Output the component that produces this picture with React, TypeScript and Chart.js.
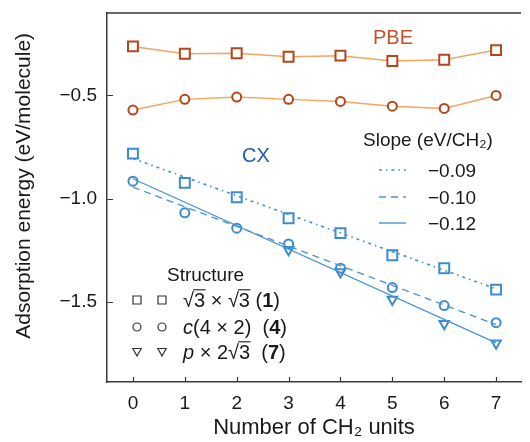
import React, { useEffect, useRef } from 'react';
import { Chart, registerables } from 'chart.js';

Chart.register(...registerables);

// ---------- data ----------
const xUnits = [0, 1, 2, 3, 4, 5, 6, 7];
const pbeSquare = [-0.262, -0.298, -0.295, -0.312, -0.307, -0.333, -0.327, -0.28];
const pbeCircle = [-0.571, -0.519, -0.508, -0.519, -0.529, -0.552, -0.563, -0.5];
const cxSquare = [-0.782, -0.924, -0.994, -1.096, -1.168, -1.275, -1.338, -1.442];
const cxCircle = [-0.916, -1.069, -1.144, -1.22, -1.338, -1.432, -1.519, -1.602];
const cxTriangle = [null, null, null, -1.248, -1.357, -1.49, -1.608, -1.702];
const fitX = [0, 7];
const fitSquare = [-0.806, -1.438];
const fitCircle = [-0.945, -1.612];
const fitTriangle = [-0.904, -1.7];
const xTickValues = [0, 1, 2, 3, 4, 5, 6, 7];
const yTickValues = [-1.5, -1.0, -0.5];
const slopeLabels = ['\u22120.09', '\u22120.10', '\u22120.12'];

// ---------- styles ----------
const FAM = '"Liberation Sans", Arial, Helvetica, sans-serif';
const FRAME = '#3a3a3a';
const TEXT = '#1a1a1a';
const PBE_MARK = '#b5461c';
const PBE_LINE = '#f5a462';
const PBE_LABEL = '#c0532b';
const CX_MARK = '#3c8dd0';
const CX_LINE = '#4a93d3';
const CX_LABEL = '#1f5ea8';
const DASHDOT = [3, 4, 1.5, 4];
const DASHED = [7, 5];

const pts = (xs: number[], ys: (number | null)[]) =>
  xs.map((x, i) => ({ x, y: ys[i] })).filter((p) => p.y !== null);

function drawSqrt(ctx: CanvasRenderingContext2D, x: number, y: number, d: string, size: number) {
  ctx.fillText('\u221A', x, y);
  const w = ctx.measureText('\u221A').width;
  ctx.fillText(d, x + w, y);
  const wd = ctx.measureText(d).width;
  ctx.save();
  ctx.strokeStyle = TEXT;
  ctx.lineWidth = 1.1;
  ctx.beginPath();
  ctx.moveTo(x + w * 0.92, y - size * 0.86);
  ctx.lineTo(x + w + wd + 0.5, y - size * 0.86);
  ctx.stroke();
  ctx.restore();
  return x + w + wd;
}

type Part = { t: string; s?: 'i' | 'b' | 'sqrt' };

function drawRich(ctx: CanvasRenderingContext2D, x: number, y: number, parts: Part[], size: number) {
  for (const p of parts) {
    if (p.s === 'i') ctx.font = `italic ${size}px ${FAM}`;
    else if (p.s === 'b') ctx.font = `bold ${size}px ${FAM}`;
    else ctx.font = `${size}px ${FAM}`;
    if (p.s === 'sqrt') {
      x = drawSqrt(ctx, x, y, p.t, size);
    } else {
      ctx.fillText(p.t, x, y);
      x += ctx.measureText(p.t).width;
    }
  }
}

const structureRows: Part[][] = [
  [{ t: '3', s: 'sqrt' }, { t: ' \u00D7 ' }, { t: '3', s: 'sqrt' }, { t: ' (' }, { t: '1', s: 'b' }, { t: ')' }],
  [{ t: 'c', s: 'i' }, { t: '(4 \u00D7 2)  (' }, { t: '4', s: 'b' }, { t: ')' }],
  [{ t: 'p', s: 'i' }, { t: ' \u00D7 2' }, { t: '3', s: 'sqrt' }, { t: '  (' }, { t: '7', s: 'b' }, { t: ')' }],
];
const structureMarkers = ['square', 'circle', 'triangle'];

function legendMarker(ctx: CanvasRenderingContext2D, kind: string, x: number, y: number) {
  ctx.beginPath();
  if (kind === 'square') ctx.rect(x - 4, y - 4, 8, 8);
  else if (kind === 'circle') ctx.arc(x, y, 4, 0, Math.PI * 2);
  else {
    ctx.moveTo(x - 4.2, y - 3.5);
    ctx.lineTo(x + 4.2, y - 3.5);
    ctx.lineTo(x, y + 4);
    ctx.closePath();
  }
  ctx.stroke();
}

const annotations = {
  id: 'annotations',
  afterDraw(chart: any) {
    const ctx: CanvasRenderingContext2D = chart.ctx;
    const { left, right, top, bottom } = chart.chartArea;
    ctx.save();
    // top frame line
    ctx.strokeStyle = FRAME;
    ctx.lineWidth = 1.5;
    ctx.beginPath();
    ctx.moveTo(left - 0.75, top);
    ctx.lineTo(right, top);
    ctx.stroke();

    // inward tick marks from the library's scales
    ctx.lineWidth = 1.2;
    const xs = chart.scales.x;
    const ys = chart.scales.y;
    ctx.beginPath();
    for (const t of xs.ticks) {
      const px = Math.round(xs.getPixelForValue(t.value)) + 0.5;
      ctx.moveTo(px, bottom);
      ctx.lineTo(px, bottom - 5);
    }
    for (const t of ys.ticks) {
      const py = Math.round(ys.getPixelForValue(t.value)) + 0.5;
      ctx.moveTo(left, py);
      ctx.lineTo(left + 6, py);
    }
    ctx.stroke();

    ctx.textBaseline = 'alphabetic';
    ctx.textAlign = 'left';
    // group labels
    ctx.font = `20px ${FAM}`;
    ctx.fillStyle = PBE_LABEL;
    ctx.fillText('PBE', 373, 44);
    ctx.fillStyle = CX_LABEL;
    ctx.fillText('CX', 242, 162);

    // slope legend
    ctx.fillStyle = TEXT;
    ctx.font = `19px ${FAM}`;
    ctx.fillText('Slope (eV/CH\u2082)', 363, 146);
    const dashes = [DASHDOT, DASHED, []];
    const rowY = [170, 197, 223];
    const baseY = [177, 204, 230];
    for (let i = 0; i < 3; i++) {
      ctx.strokeStyle = CX_LINE;
      ctx.lineWidth = 1.4;
      ctx.setLineDash(dashes[i]);
      ctx.beginPath();
      ctx.moveTo(379, rowY[i]);
      ctx.lineTo(406, rowY[i]);
      ctx.stroke();
      ctx.setLineDash([]);
      ctx.fillStyle = TEXT;
      ctx.font = `19px ${FAM}`;
      ctx.fillText(slopeLabels[i], 428, baseY[i]);
    }

    // structure legend
    ctx.fillStyle = TEXT;
    ctx.font = `19px ${FAM}`;
    ctx.fillText('Structure', 167, 281);
    const sRowY = [300, 327, 352];
    const sBase = [307, 334, 359];
    for (let i = 0; i < 3; i++) {
      ctx.strokeStyle = '#333';
      ctx.lineWidth = 1.2;
      legendMarker(ctx, structureMarkers[i], 137, sRowY[i]);
      legendMarker(ctx, structureMarkers[i], 162, sRowY[i]);
      ctx.fillStyle = TEXT;
      drawRich(ctx, 183, sBase[i], structureRows[i], 20);
    }
    ctx.restore();
  },
};

export default function App() {
  const ref = useRef<HTMLCanvasElement | null>(null);
  useEffect(() => {
    if (!ref.current) return;
    const markerBase = { showLine: false, pointBorderWidth: 2, pointBackgroundColor: 'rgba(0,0,0,0)' };
    const chart = new Chart(ref.current, {
      type: 'scatter',
      data: {
        datasets: [
          {
            label: 'PBE square',
            data: pts(xUnits, pbeSquare),
            showLine: true,
            borderColor: PBE_LINE,
            borderWidth: 1.5,
            pointStyle: 'rect',
            pointRadius: 7,
            pointBorderColor: PBE_MARK,
            pointBackgroundColor: '#ffffff',
            pointBorderWidth: 2,
          },
          {
            label: 'PBE circle',
            data: pts(xUnits, pbeCircle),
            showLine: true,
            borderColor: PBE_LINE,
            borderWidth: 1.5,
            pointStyle: 'circle',
            pointRadius: 4.5,
            pointBorderColor: PBE_MARK,
            pointBackgroundColor: '#ffffff',
            pointBorderWidth: 2,
          },
          {
            label: 'fit square',
            data: pts(fitX, fitSquare),
            showLine: true,
            borderColor: CX_LINE,
            borderWidth: 1.7,
            borderDash: DASHDOT,
            pointRadius: 0,
          },
          {
            label: 'fit circle',
            data: pts(fitX, fitCircle),
            showLine: true,
            borderColor: CX_LINE,
            borderWidth: 1.3,
            borderDash: DASHED,
            pointRadius: 0,
          },
          {
            label: 'fit triangle',
            data: pts(fitX, fitTriangle),
            showLine: true,
            borderColor: CX_LINE,
            borderWidth: 1.3,
            pointRadius: 0,
          },
          {
            label: 'CX square',
            data: pts(xUnits, cxSquare),
            ...markerBase,
            pointStyle: 'rect',
            pointRadius: 7,
            pointBorderColor: CX_MARK,
          },
          {
            label: 'CX circle',
            data: pts(xUnits, cxCircle),
            ...markerBase,
            pointStyle: 'circle',
            pointRadius: 4.5,
            pointBorderColor: CX_MARK,
          },
          {
            label: 'CX triangle',
            data: pts(xUnits, cxTriangle),
            ...markerBase,
            pointStyle: 'triangle',
            rotation: 180,
            pointRotation: 180,
            pointRadius: 5.5,
            pointBorderColor: CX_MARK,
          },
        ] as any,
      },
      options: {
        animation: false,
        responsive: false,
        devicePixelRatio: 1,
        layout: { padding: { top: 13, right: 0, left: 0, bottom: 0 } },
        plugins: { legend: { display: false }, tooltip: { enabled: false } },
        scales: {
          x: {
            type: 'linear',
            position: 'bottom',
            min: -0.5,
            max: 7.48,
            afterBuildTicks: (s: any) => {
              s.ticks = xTickValues.map((v) => ({ value: v }));
            },
            afterFit: (s: any) => {
              s.height = 60;
              s.paddingLeft = 0;
              s.paddingRight = 0;
            },
            grid: { display: false, drawTicks: false },
            border: { display: true, color: FRAME, width: 1.5 },
            ticks: {
              font: { family: FAM, size: 19 },
              color: TEXT,
              padding: 10,
              maxRotation: 0,
              autoSkip: false,
              callback: (v: any) => String(v),
            },
            title: {
              display: true,
              text: 'Number of CH\u2082 units',
              font: { family: FAM, size: 22 },
              color: TEXT,
              padding: { top: 0, bottom: 1 },
            },
          },
          y: {
            type: 'linear',
            position: 'left',
            min: -1.89,
            max: -0.1,
            afterBuildTicks: (s: any) => {
              s.ticks = yTickValues.map((v) => ({ value: v }));
            },
            afterFit: (s: any) => {
              s.width = 107;
              s.paddingTop = 0;
              s.paddingBottom = 0;
            },
            grid: { display: false, drawTicks: false },
            border: { display: true, color: FRAME, width: 1.5 },
            ticks: {
              font: { family: FAM, size: 19 },
              color: TEXT,
              padding: 10,
              callback: (v: any) => Number(v).toFixed(1).replace('-', '\u2212'),
            },
            title: {
              display: true,
              text: '\u00A0\u00A0\u00A0\u00A0Adsorption energy (eV/molecule)',
              font: { family: FAM, size: 21 },
              color: TEXT,
              padding: { top: 12, bottom: 0 },
            },
          },
        },
      } as any,
      plugins: [annotations],
    });
    return () => chart.destroy();
  }, []);

  return (
    <div style={{ position: 'fixed', left: 0, top: 0, width: 530, height: 442, background: '#fff' }}>
      <canvas ref={ref} width={530} height={442} style={{ display: 'block', width: 530, height: 442 }} />
    </div>
  );
}
